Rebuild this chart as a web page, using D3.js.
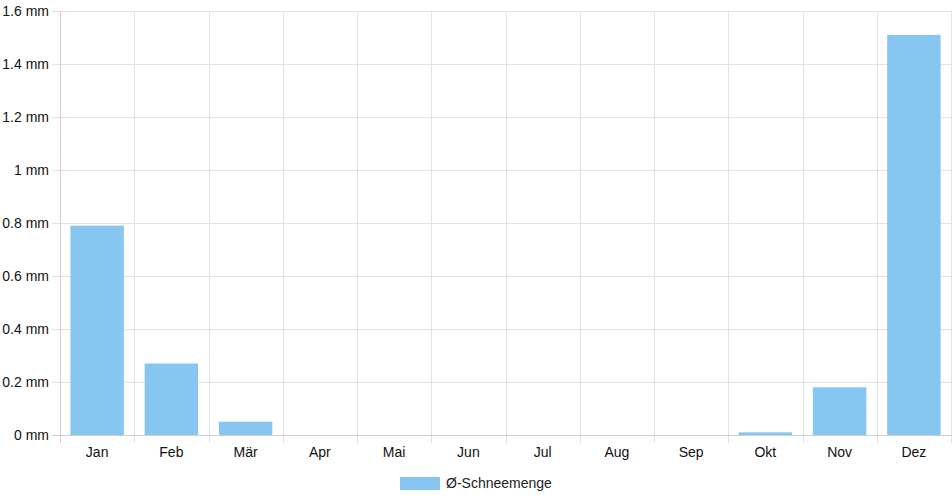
<!DOCTYPE html>
<html>
<head>
<meta charset="utf-8">
<script src="https://cdn.jsdelivr.net/npm/d3@7"></script>
<style>
  body { margin: 0; background: #fff; }
  text { font-family: "Liberation Sans", Arial, sans-serif; }
</style>
</head>
<body>
<div id="chart"></div>
<script>
// Data
var months = ["Jan", "Feb", "Mär", "Apr", "Mai", "Jun", "Jul", "Aug", "Sep", "Okt", "Nov", "Dez"];
var snow = [0.79, 0.27, 0.05, 0, 0, 0, 0, 0, 0, 0.01, 0.18, 1.51];
var yTicks = [0, 0.2, 0.4, 0.6, 0.8, 1, 1.2, 1.4, 1.6];
var seriesName = "Ø-Schneemenge";

var svgWidth = 952;
var svgHeight = 500;

var margin = { top: 11, right: 1, bottom: 65, left: 60 };
var width = svgWidth - margin.left - margin.right;
var height = svgHeight - margin.top - margin.bottom;

var barColor = "#88c6f2";
var gridColor = "#e2e2e2";

var svg = d3.select("#chart")
    .append("svg")
    .attr("width", svgWidth)
    .attr("height", svgHeight);

var chartGroup = svg.append("g")
    .attr("transform", `translate(${margin.left}, ${margin.top})`);

// Scales
var xScale = d3.scaleBand()
    .domain(months)
    .range([0, width]);

var yScale = d3.scaleLinear()
    .domain([0, 1.6])
    .range([height, 0]);

// Horizontal grid + left ticks
var leftAxis = d3.axisLeft(yScale)
    .tickValues(yTicks)
    .tickSize(-width - 8)
    .tickPadding(3)
    .tickFormat(d => d + " mm");

chartGroup.append("g")
    .attr("class", "left-axis")
    .attr("transform", "translate(-8, 0)")
    .call(leftAxis)
    .call(g => g.select(".domain").remove())
    .call(g => g.selectAll(".tick line").attr("stroke", gridColor).attr("x1", 0).attr("x2", width + 8))
    .call(g => g.selectAll(".tick text")
        .attr("x", -3)
        .attr("fill", "#111")
        .attr("font-size", "14px"));

// Vertical grid lines (band edges)
var edges = months.map(m => xScale(m)).concat([width]);
chartGroup.selectAll(".vgrid")
    .data(edges)
    .enter()
    .append("line")
    .attr("class", "vgrid")
    .attr("x1", d => Math.round(d) + 0.5)
    .attr("x2", d => Math.round(d) + 0.5)
    .attr("y1", 0)
    .attr("y2", height + 8)
    .attr("stroke", gridColor);

// Bottom labels
var bottomAxis = d3.axisBottom(xScale).tickSize(0).tickPadding(12);
chartGroup.append("g")
    .attr("class", "bottom-axis")
    .attr("transform", `translate(0, ${height})`)
    .call(bottomAxis)
    .call(g => g.select(".domain").remove())
    .call(g => g.selectAll(".tick text")
        .attr("fill", "#111")
        .attr("font-size", "14px"));

// Axis lines
chartGroup.append("line")
    .attr("x1", 0.5).attr("x2", 0.5)
    .attr("y1", 0).attr("y2", height + 8)
    .attr("stroke", "#cfcfcf");
chartGroup.append("line")
    .attr("x1", -8).attr("x2", width)
    .attr("y1", height + 0.5).attr("y2", height + 0.5)
    .attr("stroke", "#cfcfcf");

// Bars (categoryPercentage 0.8, barPercentage 0.9)
var barW = xScale.bandwidth() * 0.8 * 0.9;
chartGroup.selectAll(".bar")
    .data(snow)
    .enter()
    .append("rect")
    .attr("class", "bar")
    .attr("x", (d, i) => xScale(months[i]) + (xScale.bandwidth() - barW) / 2)
    .attr("y", d => yScale(d))
    .attr("width", barW)
    .attr("height", d => height - yScale(d))
    .attr("fill", barColor);

// Legend
var legend = svg.append("g")
    .attr("transform", `translate(${svgWidth / 2 - 76}, 477)`);
legend.append("rect")
    .attr("x", 0)
    .attr("y", 0)
    .attr("width", 40)
    .attr("height", 13)
    .attr("fill", barColor);
legend.append("text")
    .attr("x", 46)
    .attr("y", 11)
    .attr("font-size", "14px")
    .attr("fill", "#222")
    .text(seriesName);
</script>
</body>
</html>
